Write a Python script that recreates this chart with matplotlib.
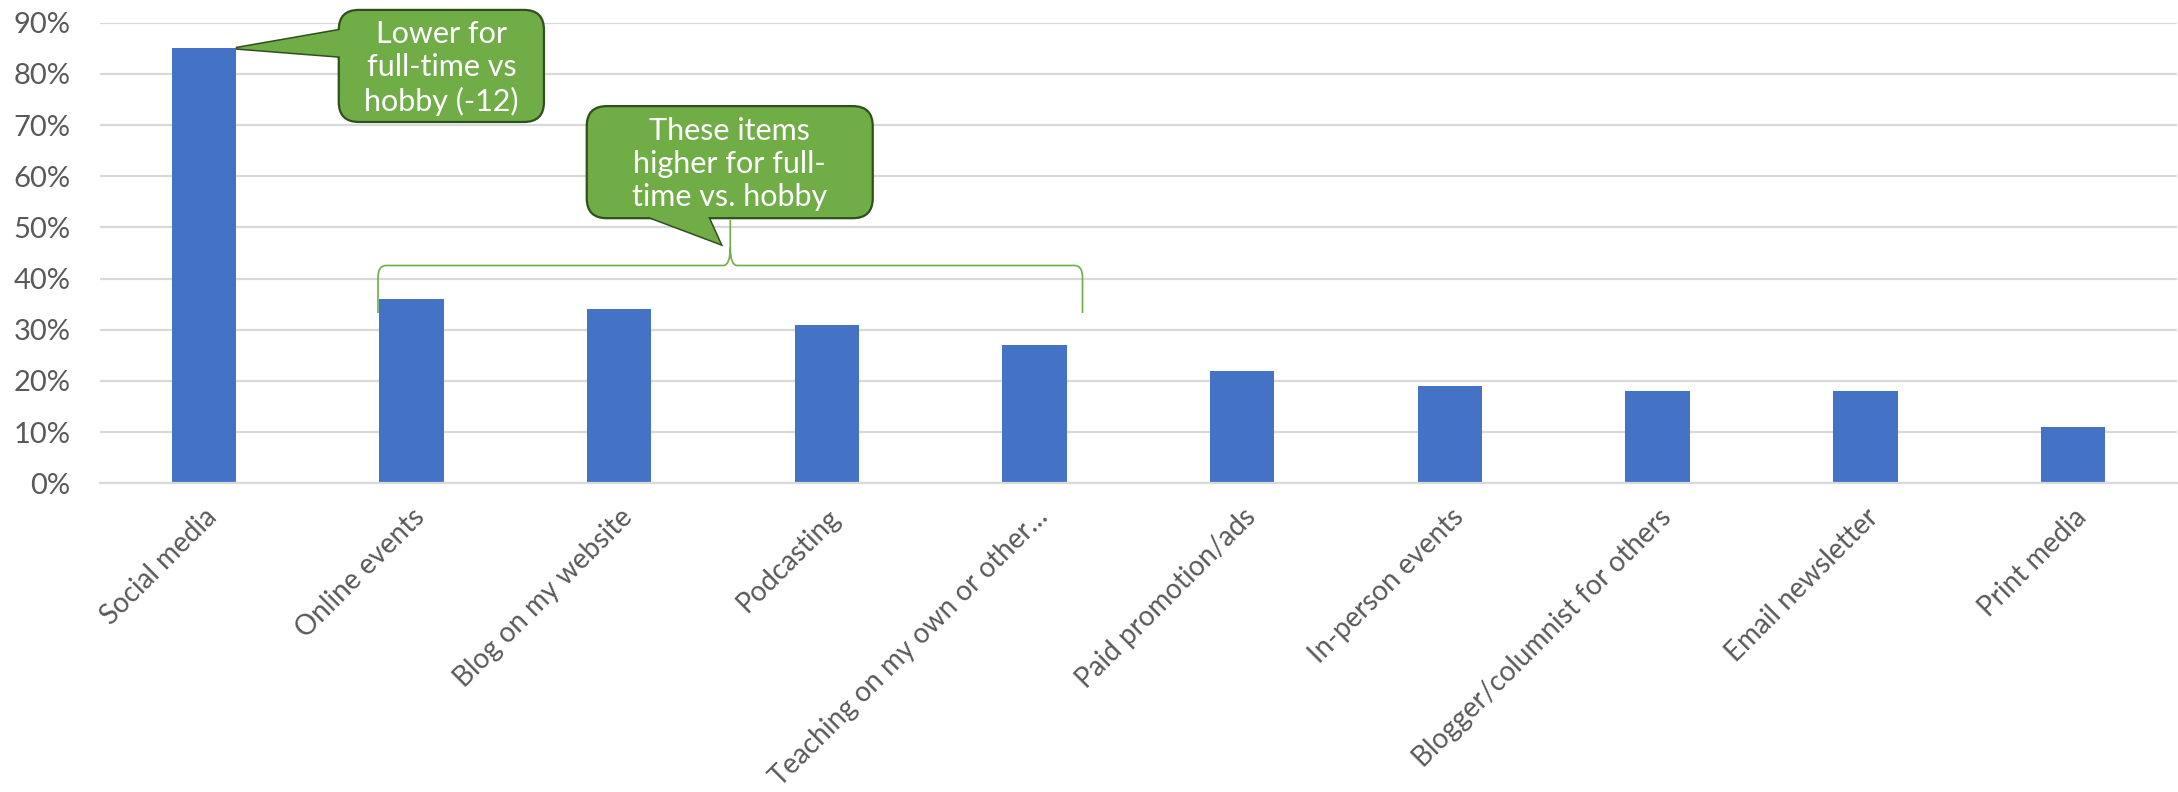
import numpy as np
import matplotlib
matplotlib.use("Agg")
import matplotlib.pyplot as plt
from matplotlib.patches import FancyBboxPatch, Polygon, PathPatch
from matplotlib.path import Path
from matplotlib.ticker import PercentFormatter

plt.rcParams['font.family'] = ['Lato', 'DejaVu Sans']

# survey answers, share of respondents
categories = ["Social media", "Online events", "Blog on my website", "Podcasting",
              "Teaching on my own or other\u2026", "Paid promotion/ads", "In-person events",
              "Blogger/columnist for others", "Email newsletter", "Print media"]
shares = [0.85, 0.36, 0.34, 0.31, 0.27, 0.22, 0.19, 0.18, 0.18, 0.11]

callout_top = "Lower for\nfull-time vs\nhobby (-12)"
callout_group = "These items\nhigher for full-\ntime vs. hobby"
group_idx = [1, 4]  # first and last bar covered by the brace

BAR = "#4472C4"
GRID = "#D9D9D9"
LABEL = "#595959"
BOX_FILL = "#70AD47"
BOX_EDGE = "#2F4F1D"
BAR_W = 0.31

fig = plt.figure(figsize=(21.78, 7.92), dpi=100)
ax = fig.add_axes([0.04587, 0.38977, 0.95363, 0.58157])

x = np.arange(len(categories))
ax.bar(x, shares, width=BAR_W, color=BAR, zorder=2)

ax.set_xlim(-0.5, len(categories) - 0.5)
ax.set_ylim(0, 0.9)
ax.set_yticks(np.arange(0, 0.91, 0.1))
ax.yaxis.set_major_formatter(PercentFormatter(1.0, decimals=0))
ax.grid(axis='y', color=GRID, lw=1.6, zorder=0)
ax.set_axisbelow(True)
for s in ['top', 'right', 'left']:
    ax.spines[s].set_visible(False)
ax.spines['bottom'].set_color(GRID)
ax.spines['bottom'].set_linewidth(1.6)
ax.tick_params(axis='y', length=0, labelsize=21, labelcolor=LABEL, pad=21)
ax.set_xticks(x)
ax.set_xticklabels(categories, rotation=45, ha='right', va='top',
                   rotation_mode='anchor')
ax.tick_params(axis='x', length=0, labelsize=20, labelcolor=LABEL, pad=15)

# px -> data helpers for the annotation geometry
xpx = 207.7
ypx = 511.8
aspect = xpx / ypx


def callout(x0, x1, y0, y1, text, base, tip):
    # pointer first, then box over it, then pointer fill to hide the seam
    tri = Polygon([base[0], tip, base[1]], closed=True, facecolor=BOX_FILL,
                  edgecolor=BOX_EDGE, lw=2.2, zorder=5, clip_on=False)
    ax.add_patch(tri)
    box = FancyBboxPatch((x0, y0), x1 - x0, y1 - y0,
                         boxstyle="round,pad=0,rounding_size=%f" % (20 / xpx),
                         mutation_aspect=aspect, facecolor=BOX_FILL,
                         edgecolor=BOX_EDGE, lw=1.6, zorder=6, clip_on=False)
    ax.add_patch(box)
    cover = Polygon([base[0], tip, base[1]], closed=True, facecolor=BOX_FILL,
                    edgecolor='none', zorder=7, clip_on=False)
    ax.add_patch(cover)
    ax.text((x0 + x1) / 2, (y0 + y1) / 2 - 0.004, text, ha='center', va='center',
            color='white', fontsize=22, linespacing=1.22, zorder=8)


# callout pointing at the top of the first bar
callout(0.650, 1.638, 0.706, 0.925, callout_top,
        [(0.69, 0.888), (0.69, 0.833)], (x[0] + BAR_W / 2, shares[0]))

# brace over the group of bars
bl = group_idx[0] - 0.161
br = group_idx[1] + 0.231
bm = (bl + br) / 2
yh, yend, ypeak = 0.4256, 0.3327, 0.5145
rx, ry = 8 / xpx, 12 / ypx
mrx, mry = 7 / xpx, 18 / ypx
verts = [(bl, yend), (bl, yh - ry), (bl, yh), (bl + rx, yh),
         (bm - mrx, yh), (bm, yh), (bm, yh + mry), (bm, ypeak),
         (bm, yh + mry), (bm, yh), (bm + mrx, yh),
         (br - rx, yh), (br, yh), (br, yh - ry), (br, yend)]
codes = [Path.MOVETO, Path.LINETO, Path.CURVE3, Path.CURVE3,
         Path.LINETO, Path.CURVE3, Path.CURVE3, Path.LINETO,
         Path.MOVETO, Path.CURVE3, Path.CURVE3,
         Path.LINETO, Path.CURVE3, Path.CURVE3, Path.LINETO]
ax.add_patch(PathPatch(Path(verts, codes), facecolor='none', edgecolor=BOX_FILL,
                       lw=1.2, zorder=4))

callout(1.844, 3.221, 0.518, 0.737, callout_group,
        [(2.081, 0.53), (2.418, 0.53)], (bm - 0.048, 0.468))

fig.savefig("out.png", dpi=100)
